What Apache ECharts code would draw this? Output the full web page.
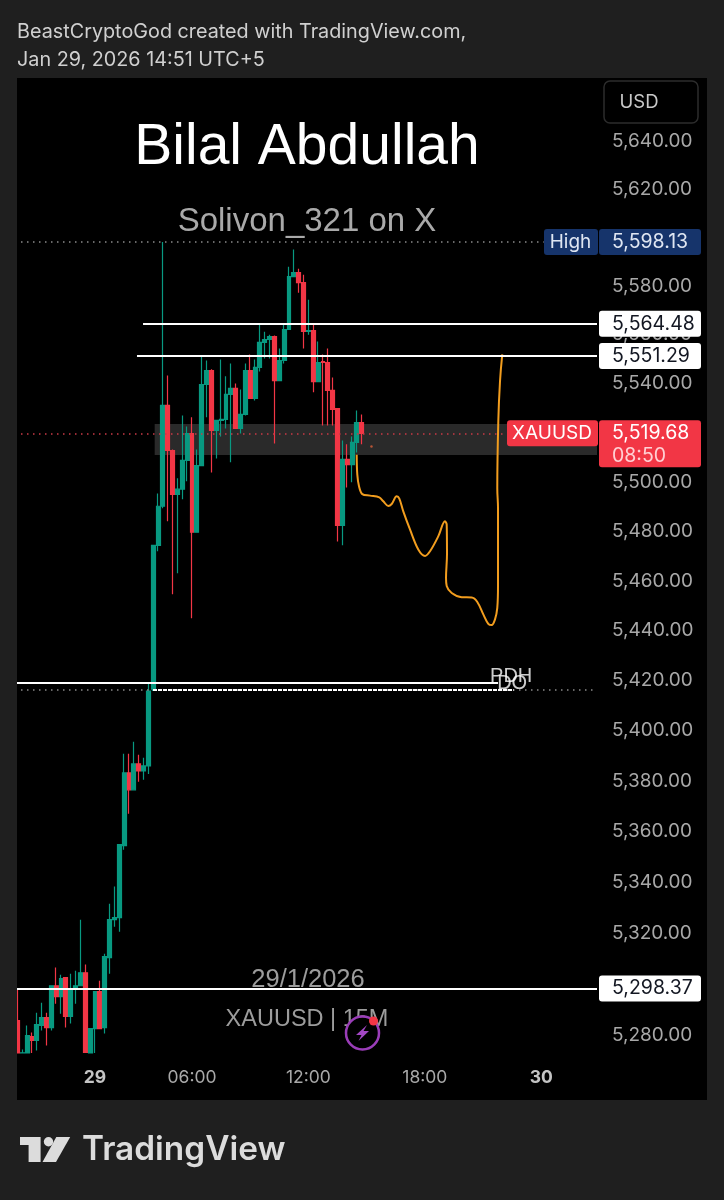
<!DOCTYPE html>
<html>
<head>
    <meta charset="utf-8">
    <title>XAUUSD 15M</title>
    <script src="https://cdn.jsdelivr.net/npm/echarts@6/dist/echarts.min.js"></script>
    <style>
        html, body { margin: 0; padding: 0; background: #1f1f1f; }
        #chart { width: 724px; height: 1200px; }
    </style>
</head>
<body>
<div id="chart"></div>
<script type="text/javascript">
    var FONT = 'Inter, "Noto Sans", sans-serif';

    // 15 minute candles: open, close, low, high
    var candles = [
        [5285.8, 5273.2, 5273.2, 5298.3], [5273.2, 5273.3, 5273.2, 5274.6], [5273.2, 5280, 5273.2, 5283.9], [5279.6, 5278.1, 5273.2, 5281.2],
        [5278.1, 5284.3, 5274.2, 5288.9], [5283.9, 5287, 5282, 5292.8], [5287, 5283.1, 5276.1, 5288.9], [5283.1, 5299.4, 5282, 5299.4],
        [5299.4, 5295.2, 5292.4, 5306.5], [5295.2, 5302.2, 5288.5, 5303.7], [5302.6, 5287.4, 5283.1, 5302.6], [5287.4, 5298.3, 5284.7, 5304.1],
        [5298.3, 5299.4, 5292.4, 5305.3], [5299.4, 5304.5, 5299.4, 5325.3], [5304.5, 5273.4, 5273.2, 5307.7], [5273.2, 5282.7, 5273.2, 5282.7],
        [5282.7, 5297.1, 5273.2, 5297.1], [5297.1, 5282.7, 5282.7, 5301.4], [5283.1, 5310.8, 5280.8, 5311.9], [5310.4, 5325.3, 5304.1, 5331.5],
        [5325.3, 5326.1, 5322.5, 5338.3], [5326.1, 5354.8, 5320.5, 5354.8], [5354.4, 5383.2, 5352.8, 5390.8], [5383.2, 5376.5, 5367, 5390.8],
        [5376.5, 5386.8, 5376.5, 5395.6], [5386.8, 5384, 5379.7, 5390.4], [5384, 5386, 5380.5, 5389.2], [5386, 5415.8, 5382.8, 5418.6],
        [5416.6, 5474.3, 5415.8, 5474.3], [5474.3, 5490.1, 5471.9, 5495.3], [5490.1, 5531.1, 5489.3, 5598.13], [5531.1, 5512.7, 5484, 5543.3],
        [5512.7, 5494.9, 5454.6, 5513.1], [5494.9, 5497, 5463, 5501.4], [5497, 5508.7, 5492.9, 5527], [5508.7, 5519.6, 5500.2, 5522.5],
        [5519.6, 5479.6, 5445, 5526.2], [5479.6, 5506.6, 5479.6, 5513.1], [5506.6, 5539.6, 5506.6, 5551.1], [5539.6, 5545.3, 5526.2, 5549.4],
        [5545.3, 5520.9, 5503.8, 5545.8], [5520.9, 5525, 5509.5, 5525], [5525, 5525.4, 5518.4, 5549.8], [5525.4, 5535.6, 5521.7, 5543],
        [5535.6, 5538, 5507.9, 5548.2], [5538, 5521.7, 5521.7, 5540], [5521.7, 5527.4, 5519.6, 5537.6], [5527.4, 5545.3, 5527, 5548.2],
        [5545.3, 5533.9, 5533.9, 5551.9], [5533.9, 5546.6, 5533.1, 5549.8], [5546.6, 5556.8, 5544.9, 5564.1], [5556.8, 5558, 5550.2, 5561.2],
        [5558, 5559.2, 5550.2, 5560], [5559.2, 5541.2, 5515.6, 5559.6], [5541.2, 5549.4, 5541.2, 5554.3], [5549.4, 5562.1, 5548.2, 5564.1],
        [5562.1, 5583.8, 5562.1, 5587.9], [5583.8, 5585.5, 5583.8, 5595], [5585.5, 5581.4, 5577.2, 5587.1], [5581.4, 5561.3, 5554.3, 5584.6],
        [5561.3, 5561.7, 5560, 5574.3], [5561.7, 5540.8, 5536.4, 5564.1], [5540.8, 5548.6, 5540.8, 5557.2], [5549, 5548.6, 5522.9, 5551.9],
        [5548.6, 5537.2, 5522.9, 5554.3], [5537.2, 5529.4, 5522.9, 5542.5], [5529.8, 5482.4, 5475.9, 5529.8], [5482.4, 5509.1, 5474.3, 5516.8],
        [5509.1, 5507, 5497.7, 5515.2], [5507, 5516, 5499.8, 5518.4], [5516, 5524.1, 5511.9, 5529], [5524.1, 5519.68, 5515.2, 5527.4]
    ];
    var barCount = 120;
    var tickBars = [16, 36, 60, 84, 108];
    var tickLabels = ['29', '06:00', '12:00', '18:00', '30'];
    var priceTicks = [5280, 5300, 5320, 5340, 5360, 5380, 5400, 5420, 5440, 5460, 5480, 5500, 5520, 5540, 5560, 5580, 5600, 5620, 5640];

    // hand drawn projection: bar position, price
    var drawingBars = [70.45, 70.58, 70.93, 71.61, 73.2, 75.11, 75.94, 76.97, 77.67, 78.7, 79.24, 80.06, 81.44, 83.15, 84.54, 85.57, 87.29, 88.66, 89.01, 89.07, 88.87, 89.01, 90.04, 92.1, 94.17, 95.32, 96.56, 97.59, 98.29, 98.97, 99.44, 99.59, 99.59, 99.44, 99.65, 100, 100.47];
    var drawingPrices = [5511, 5502.9, 5498.2, 5495, 5494.4, 5493.7, 5492.1, 5490.2, 5491, 5494.1, 5493.2, 5488, 5480.7, 5472.6, 5470, 5471.9, 5478, 5484, 5482.7, 5470.6, 5461.2, 5457.9, 5455.1, 5453.4, 5453.3, 5451.5, 5446.5, 5442.7, 5442.2, 5444.5, 5449.1, 5458.5, 5489.4, 5497.3, 5524.5, 5540.8, 5551.9];
    var strayPoint = [[73.5, 5514.3]];

    // horizontal levels: price, first bar, last bar
    var levelPrices = [5564.48, 5551.29, 5298.37, 5419, 5598.13, 5519.68, 5416.2, 5416.2];
    var levelFrom = [26.4, 25.15, 0, 0, 0, 0, 0, 28.45];
    var levelTo = [120, 120, 120, 99.6, 109, 101.4, 119.2, 102.8];
    var levelStyles = [
        {color: '#ffffff', width: 2, type: 'solid'},
        {color: '#ffffff', width: 2, type: 'solid'},
        {color: '#ffffff', width: 2, type: 'solid'},
        {color: '#ffffff', width: 2, type: 'solid'},
        {color: '#8a8a8a', width: 1.5, type: [1.5, 4.5]},
        {color: '#c93a46', width: 1.5, type: [1.5, 4.5]},
        {color: '#8a8a8a', width: 1.5, type: [1.5, 4.5]},
        {color: '#ffffff', width: 2, type: [4, 1]}
    ];

    // price tags on the axis
    var tagPrices = [5598.13, 5564.48, 5551.29, 5519.68, 5298.37];
    var tagTexts = ['5,598.13', '5,564.48', '5,551.29', '5,519.68', '5,298.37'];
    var tagSideTexts = ['High', '', '', 'XAUUSD', ''];
    var tagSideWidths = [53, 0, 0, 90, 0];
    var tagFills = ['#16346b', '#ffffff', '#ffffff', '#f23645', '#ffffff'];
    var tagColors = ['#dfe6f2', '#131722', '#131722', '#ffffff', '#131722'];

    var zoneTop = 5523.5, zoneBottom = 5510.9;
    var pdhText = [[102.3, 5421.8]], doText = [[102.5, 5419]];

    var categories = [];
    for (var i = 0; i < barCount; i++) {
        categories.push('b' + i);
    }
    var drawing = drawingBars.map(function (b, k) { return [b, drawingPrices[k]]; });
    var levelLines = levelPrices.map(function (p, k) {
        return [
            {coord: [levelFrom[k], p], lineStyle: levelStyles[k]},
            {coord: [levelTo[k], p]}
        ];
    });
    var tags = tagPrices.map(function (p, k) { return [120, p, k]; });

    var myChart = echarts.init(document.getElementById('chart'), null, {renderer: 'canvas'});
    myChart.setOption({
        backgroundColor: '#1f1f1f',
        animation: false,
        grid: {left: 15, right: 127, top: 78, bottom: 147},
        xAxis: [
            {
                type: 'category',
                data: categories,
                axisLine: {show: false},
                axisTick: {show: false},
                splitLine: {show: false},
                axisLabel: {
                    interval: function (idx) { return tickBars.indexOf(idx) >= 0; },
                    margin: 16,
                    hideOverlap: false,
                    formatter: function (v, idx) {
                        var label = tickLabels[tickBars.indexOf(idx)];
                        return label.indexOf(':') < 0 ? '{day|' + label + '}' : '{time|' + label + '}';
                    },
                    rich: {
                        day: {color: '#c4c4c4', fontFamily: FONT, fontSize: 17.5, fontWeight: 'bold'},
                        time: {color: '#a8a8a8', fontFamily: FONT, fontSize: 17.5}
                    }
                }
            },
            {type: 'value', show: false, min: 0, max: barCount, splitLine: {show: false}}
        ],
        yAxis: {
            type: 'log',
            position: 'right',
            min: 5273.2,
            max: 5666.2,
            axisLine: {show: false},
            axisTick: {show: false},
            splitLine: {show: false},
            minorTick: {show: false},
            axisLabel: {
                customValues: priceTicks,
                margin: 15,
                color: '#a8a8a8',
                fontFamily: FONT,
                fontSize: 19,
                showMinLabel: true,
                showMaxLabel: true,
                padding: [0, 0, 3, 0],
                formatter: function (v) {
                    return Number(v).toLocaleString('en-US', {minimumFractionDigits: 2, maximumFractionDigits: 2});
                }
            }
        },
        graphic: [
            {type: 'rect', z: -10, silent: true, shape: {x: 17, y: 78, width: 690, height: 1022}, style: {fill: '#000000'}},
            {type: 'rect', z: 100, silent: true, shape: {x: 0, y: 78, width: 17, height: 1022}, style: {fill: '#1f1f1f'}},
            {type: 'text', z: 5, x: 17, y: 32, silent: true, style: {text: 'BeastCryptoGod created with TradingView.com,', fill: '#d0d0d0', font: '19.8px ' + FONT, textVerticalAlign: 'middle'}},
            {type: 'text', z: 5, x: 17, y: 60, silent: true, style: {text: 'Jan 29, 2026 14:51 UTC+5', fill: '#d0d0d0', font: '19.8px ' + FONT, textVerticalAlign: 'middle'}},
            {type: 'rect', z: 5, silent: true, shape: {x: 604, y: 81, width: 94, height: 42, r: 6}, style: {fill: '#000000', stroke: '#2c2c2c', lineWidth: 1.5}},
            {type: 'text', z: 5, x: 639, y: 102, silent: true, style: {text: 'USD', fill: '#c8c8c8', font: '18.5px ' + FONT, textAlign: 'center', textVerticalAlign: 'middle'}},
            {type: 'text', z: 1, x: 307, y: 148, silent: true, style: {text: 'Bilal Abdullah', fill: '#ffffff', font: '57px "Liberation Sans", sans-serif', textAlign: 'center', textVerticalAlign: 'middle'}},
            {type: 'text', z: 1, x: 307, y: 222, silent: true, style: {text: 'Solivon_321 on X', fill: '#a9a9a9', font: '33px "Liberation Sans", sans-serif', textAlign: 'center', textVerticalAlign: 'middle'}},
            {type: 'text', z: 1, x: 308, y: 980, silent: true, style: {text: '29/1/2026', fill: '#9c9c9c', font: '25.5px "Liberation Sans", sans-serif', textAlign: 'center', textVerticalAlign: 'middle'}},
            {type: 'text', z: 1, x: 307, y: 1020, silent: true, style: {text: 'XAUUSD | 15M', fill: '#9c9c9c', font: '23.5px "Liberation Sans", sans-serif', textAlign: 'center', textVerticalAlign: 'middle'}},
            {type: 'circle', z: 50, silent: true, shape: {cx: 362.5, cy: 1033, r: 16.5}, style: {fill: '#000000', stroke: '#9a3db8', lineWidth: 2.5}},
            {type: 'polygon', z: 51, silent: true, shape: {points: [[367, 1025], [356, 1035], [361.5, 1035], [358.5, 1041], [369, 1031], [363.5, 1031]]}, style: {fill: '#a347c4'}},
            {type: 'circle', z: 52, silent: true, shape: {cx: 373.5, cy: 1021, r: 4.5}, style: {fill: '#f23645'}},
            // TradingView logo
            {type: 'polygon', z: 5, silent: true, shape: {points: [[20, 1137], [40.6, 1137], [40.6, 1162], [28.6, 1162], [28.6, 1145], [20, 1145]]}, style: {fill: '#dcdcdc'}},
            {type: 'circle', z: 5, silent: true, shape: {cx: 48.5, cy: 1141.7, r: 4.7}, style: {fill: '#dcdcdc'}},
            {type: 'polygon', z: 5, silent: true, shape: {points: [[56.3, 1137], [70.2, 1137], [56, 1162], [42.5, 1162]]}, style: {fill: '#dcdcdc'}},
            {type: 'text', z: 5, x: 82, y: 1150, silent: true, style: {text: 'TradingView', fill: '#dcdcdc', font: '600 33.4px ' + FONT, textVerticalAlign: 'middle'}}
        ],
        series: [
            {
                name: 'zone',
                type: 'line',
                xAxisIndex: 1,
                z: 1,
                showSymbol: false,
                silent: true,
                data: [[28.8, zoneTop]],
                markArea: {
                    silent: true,
                    itemStyle: {color: '#2a2a2a'},
                    data: [[{coord: [28.8, zoneTop]}, {coord: [barCount, zoneBottom]}]]
                }
            },
            {
                name: 'XAUUSD',
                type: 'candlestick',
                z: 3,
                barWidth: 4.4,
                silent: true,
                data: candles,
                itemStyle: {
                    color: '#089981',
                    color0: '#f23645',
                    borderColor: '#089981',
                    borderColor0: '#f23645',
                    borderWidth: 1.2
                }
            },
            {
                name: 'drawing',
                type: 'line',
                xAxisIndex: 1,
                z: 4,
                data: drawing,
                smooth: 0.35,
                showSymbol: false,
                silent: true,
                lineStyle: {color: '#f29d1e', width: 2},
                markLine: {
                    silent: true,
                    symbol: ['none', 'none'],
                    label: {show: false},
                    data: levelLines
                }
            },
            {
                name: 'stray',
                type: 'scatter',
                xAxisIndex: 1,
                z: 4,
                silent: true,
                symbolSize: 2.5,
                itemStyle: {color: '#d9603a'},
                data: strayPoint
            },
            {
                name: 'labels',
                type: 'scatter',
                xAxisIndex: 1,
                z: 5,
                symbolSize: 0,
                silent: true,
                data: pdhText.concat(doText),
                label: {
                    show: true,
                    position: 'inside',
                    color: '#ffffff',
                    fontFamily: '"Liberation Sans", sans-serif',
                    fontSize: 20,
                    formatter: function (p) { return p.dataIndex === 0 ? 'PDH' : 'DO'; }
                }
            },
            {
                name: 'tags',
                type: 'custom',
                xAxisIndex: 1,
                z: 6,
                silent: true,
                clip: false,
                data: tags,
                renderItem: function (params, api) {
                    var k = api.value(2);
                    var pt = api.coord([api.value(0), api.value(1)]);
                    var isLast = tagSideTexts[k] === 'XAUUSD';
                    var kids = [
                        {type: 'rect', shape: {x: pt[0] + 2, y: pt[1] - 13, width: 102, height: isLast ? 47 : 26, r: 3}, style: {fill: tagFills[k]}},
                        {type: 'text', x: pt[0] + 15, y: pt[1], style: {text: tagTexts[k], fill: tagColors[k], font: '19.5px ' + FONT, textVerticalAlign: 'middle'}}
                    ];
                    if (isLast) {
                        kids.push({type: 'text', x: pt[0] + 15, y: pt[1] + 23, style: {text: '08:50', fill: '#ffd0d4', font: '19.5px ' + FONT, textVerticalAlign: 'middle'}});
                    }
                    if (tagSideWidths[k]) {
                        kids.push({type: 'rect', shape: {x: pt[0] - tagSideWidths[k], y: pt[1] - 13, width: tagSideWidths[k] + 1, height: 26, r: 3}, style: {fill: tagFills[k]}});
                        kids.push({type: 'text', x: pt[0] - tagSideWidths[k] / 2, y: pt[1], style: {text: tagSideTexts[k], fill: tagColors[k], font: '19px ' + FONT, textAlign: 'center', textVerticalAlign: 'middle'}});
                    }
                    return {type: 'group', children: kids};
                }
            }
        ]
    });
</script>
</body>
</html>
